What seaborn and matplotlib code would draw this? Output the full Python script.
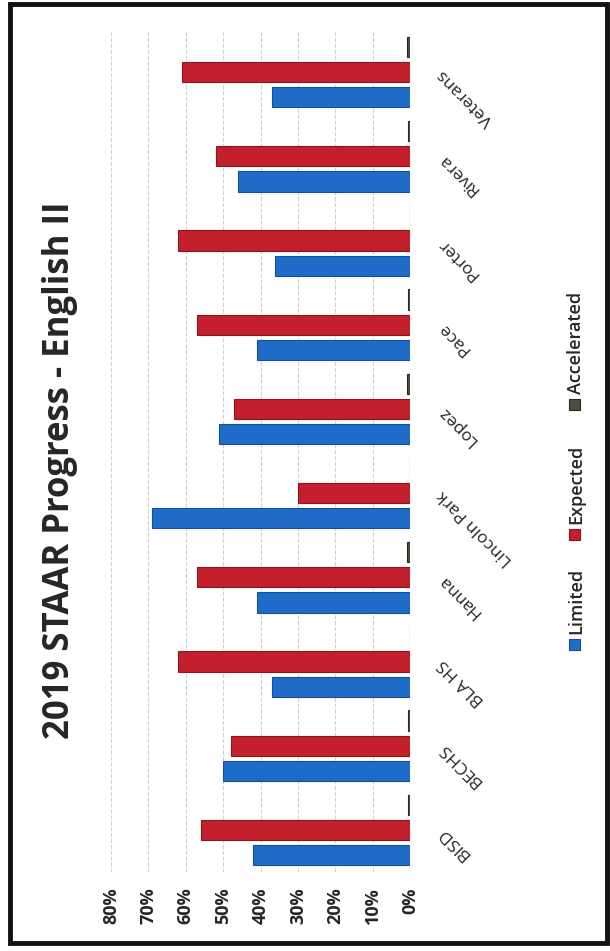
"""2019 STAAR Progress - English II, drawn rotated like the scanned page."""
import matplotlib
matplotlib.use('Agg')
import matplotlib.pyplot as plt
from matplotlib.patches import Rectangle
from matplotlib.ticker import PercentFormatter
import pandas as pd
import seaborn as sns

campuses = ['BISD', 'BECHS', 'BLA HS', 'Hanna', 'Lincoln Park',
            'Lopez', 'Pace', 'Porter', 'Rivera', 'Veterans']
series = ['Limited', 'Expected', 'Accelerated']
limited = [0.42, 0.50, 0.37, 0.41, 0.69, 0.51, 0.41, 0.36, 0.46, 0.37]
expected = [0.56, 0.48, 0.62, 0.57, 0.30, 0.47, 0.57, 0.62, 0.52, 0.61]
accelerated = [0.005, 0.005, 0.0, 0.008, 0.0, 0.008, 0.005, 0.0, 0.005, 0.008]
colors = ['#1f6cc8', '#c41f2d', '#4d4d40']
edges = ['#174f94', '#8a1720', '#2a2a22']
pct_ticks = [0, 0.1, 0.2, 0.3, 0.4, 0.5, 0.6, 0.7, 0.8]
title = '2019 STAAR Progress - English II'

df = pd.DataFrame({
    'campus': campuses * 3,
    'series': sum([[s] * len(campuses) for s in series], []),
    'value': limited + expected + accelerated,
})

sns.set_theme(style='white')
plt.rcParams['font.family'] = ['Open Sans', 'DejaVu Sans']

fig = plt.figure(figsize=(6.1, 9.51), dpi=100)
ax = fig.add_axes([111 / 610, 79 / 951, 299 / 610, 842 / 951])

sns.barplot(data=df, x='value', y='campus', hue='series', order=campuses,
            hue_order=series, palette=colors, saturation=1, orient='h',
            width=0.9, gap=0.2, linewidth=0.8, legend=False, ax=ax)

# darker rim on each bar, one colour per series
for cont, ec in zip(ax.containers, edges):
    for bar in cont:
        bar.set_edgecolor(ec)

# seaborn puts the first category on top; the scan has BISD at the bottom
ax.set_ylim(-0.5, len(campuses) - 0.5)
ax.set_xlim(0.8, 0)
ax.set_xticks(pct_ticks)
ax.xaxis.set_major_formatter(PercentFormatter(1.0, decimals=0))
ax.grid(True, axis='x', color='#d0d0d0', linestyle='--', linewidth=0.8)
ax.set_axisbelow(True)
for side in ['top', 'bottom', 'left', 'right']:
    ax.spines[side].set_visible(False)
ax.set_xlabel('')
ax.set_ylabel('')

ax.tick_params(axis='x', length=0, pad=11, labelsize=13)
for lab in ax.get_xticklabels():
    lab.set_rotation(90)
    lab.set_fontweight('bold')
    lab.set_va('top')

ax.yaxis.tick_right()
ax.tick_params(axis='y', length=0, pad=22, labelsize=12.5)
for lab in ax.get_yticklabels():
    lab.set_rotation(135)
    lab.set_rotation_mode('anchor')
    lab.set_ha('right')
    lab.set_va('center')

fig.text(60 / 610, 1 - 470 / 951, title, rotation=90, ha='center', va='center',
         fontsize=25, fontweight='bold')

# legend, turned with the rest of the page
leg_y = [645, 535, 405]
for name, col, ec, y in zip(series, colors, edges, leg_y):
    fig.patches.append(Rectangle((569 / 610, 1 - (y + 5) / 951), 11 / 610, 11 / 951,
                                 transform=fig.transFigure, facecolor=col,
                                 edgecolor=ec, linewidth=0.8))
    fig.text(576 / 610, 1 - (y - 11) / 951, name, rotation=90, rotation_mode='anchor',
             ha='left', va='center', fontsize=13, fontweight='semibold')

fig.patches.append(Rectangle((10 / 610, 8 / 951), 597 / 610, 939 / 951,
                             transform=fig.transFigure, fill=False,
                             edgecolor='#111111', linewidth=3.5))

fig.savefig('out.png', dpi=100)
